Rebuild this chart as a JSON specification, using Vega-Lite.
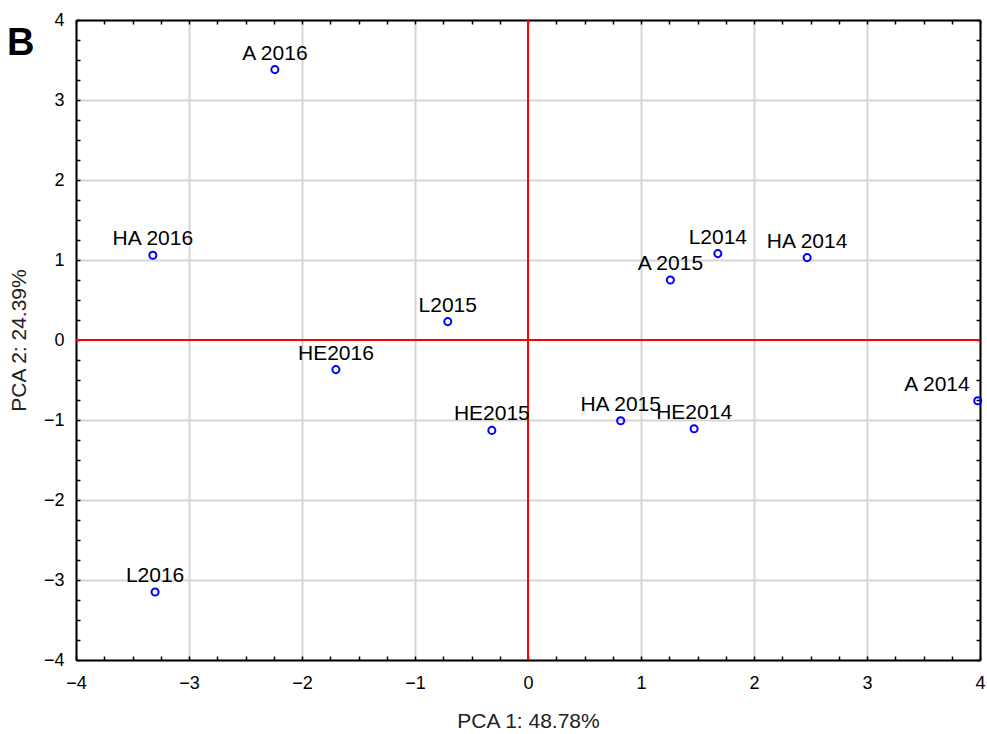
{
  "$schema": "https://vega.github.io/schema/vega-lite/v6.json",
  "width": 904,
  "height": 640,
  "autosize": {"type": "none"},
  "padding": {"left": 76, "top": 20, "right": 7, "bottom": 74},
  "background": "white",
  "title": {"text": "B", "anchor": "start", "frame": "group", "fontSize": 38, "fontWeight": "bold", "font": "Liberation Sans", "color": "black", "offset": 0, "dx": -69, "dy": 82, "baseline": "alphabetic"},
  "data": {"values": [
    {"label": "A 2016", "pc1": -2.24, "pc2": 3.38},
    {"label": "HA 2016", "pc1": -3.32, "pc2": 1.06},
    {"label": "L2016", "pc1": -3.30, "pc2": -3.15},
    {"label": "HE2016", "pc1": -1.70, "pc2": -0.37},
    {"label": "L2015", "pc1": -0.71, "pc2": 0.23},
    {"label": "HE2015", "pc1": -0.32, "pc2": -1.13},
    {"label": "A 2015", "pc1": 1.26, "pc2": 0.75},
    {"label": "L2014", "pc1": 1.68, "pc2": 1.08},
    {"label": "HA 2014", "pc1": 2.47, "pc2": 1.03},
    {"label": "A 2014", "pc1": 3.98, "pc2": -0.76},
    {"label": "HA 2015", "pc1": 0.82, "pc2": -1.01},
    {"label": "HE2014", "pc1": 1.47, "pc2": -1.11}
  ]},
  "resolve": {"axis": {"x": "independent", "y": "independent"}},
  "layer": [
    {
      "mark": {"type": "rule", "color": "#ff0000", "strokeWidth": 2},
      "encoding": {"y": {"datum": 0, "type": "quantitative", "scale": {"domain": [-4, 4], "nice": false, "zero": false}, "axis": null}}
    },
    {
      "mark": {"type": "rule", "color": "#ff0000", "strokeWidth": 2},
      "encoding": {"x": {"datum": 0, "type": "quantitative", "scale": {"domain": [-4, 4], "nice": false, "zero": false}, "axis": null}}
    },
    {
      "mark": {"type": "point", "shape": "circle", "filled": false, "color": "#0000ff", "strokeWidth": 2, "size": 50, "opacity": 1},
      "encoding": {
        "x": {"field": "pc1", "type": "quantitative", "scale": {"domain": [-4, 4], "nice": false, "zero": false},
          "axis": {"orient": "bottom", "title": "PCA 1: 48.78%", "values": [-4,-3.75,-3.5,-3.25,-3,-2.75,-2.5,-2.25,-2,-1.75,-1.5,-1.25,-1,-0.75,-0.5,-0.25,0,0.25,0.5,0.75,1,1.25,1.5,1.75,2,2.25,2.5,2.75,3,3.25,3.5,3.75,4],
            "labelExpr": "datum.value % 1 === 0 ? format(datum.value, 'd') : ''", "labelOverlap": false, "labelFlush": false,
            "grid": true, "gridColor": "#d6d6d6", "gridWidth": 2,
            "gridOpacity": {"condition": {"test": "datum.value % 1 !== 0 || datum.value === 0", "value": 0}, "value": 1},
            "tickSize": -4, "tickColor": "black", "tickWidth": 1.5, "domainColor": "black", "domainWidth": 2,
            "labelFont": "Liberation Sans", "labelFontSize": 18, "labelColor": "black", "labelPadding": 18,
            "titleFont": "Liberation Sans", "titleFontSize": 21, "titleFontWeight": "normal", "titleColor": "#222", "titlePadding": 18}},
        "y": {"field": "pc2", "type": "quantitative", "scale": {"domain": [-4, 4], "nice": false, "zero": false},
          "axis": {"orient": "left", "title": "PCA 2: 24.39%", "values": [-4,-3.75,-3.5,-3.25,-3,-2.75,-2.5,-2.25,-2,-1.75,-1.5,-1.25,-1,-0.75,-0.5,-0.25,0,0.25,0.5,0.75,1,1.25,1.5,1.75,2,2.25,2.5,2.75,3,3.25,3.5,3.75,4],
            "labelExpr": "datum.value % 1 === 0 ? format(datum.value, 'd') : ''", "labelOverlap": false, "labelFlush": false,
            "grid": true, "gridColor": "#d6d6d6", "gridWidth": 2,
            "gridOpacity": {"condition": {"test": "datum.value % 1 !== 0 || datum.value === 0", "value": 0}, "value": 1},
            "tickSize": -4, "tickColor": "black", "tickWidth": 1.5, "domainColor": "black", "domainWidth": 2,
            "labelFont": "Liberation Sans", "labelFontSize": 18, "labelColor": "black", "labelPadding": 16,
            "titleFont": "Liberation Sans", "titleFontSize": 21, "titleFontWeight": "normal", "titleColor": "#222", "titlePadding": 14}}
      }
    },
    {
      "transform": [{"filter": "datum.label !== 'A 2014'"}],
      "mark": {"type": "text", "font": "Liberation Sans", "fontSize": 21, "color": "black", "align": "center", "baseline": "alphabetic", "dy": -10},
      "encoding": {
        "text": {"field": "label"},
        "x": {"field": "pc1", "type": "quantitative", "scale": {"domain": [-4, 4], "nice": false, "zero": false},
          "axis": {"orient": "top", "title": null, "labels": false, "grid": false, "values": [-4,-3.75,-3.5,-3.25,-3,-2.75,-2.5,-2.25,-2,-1.75,-1.5,-1.25,-1,-0.75,-0.5,-0.25,0,0.25,0.5,0.75,1,1.25,1.5,1.75,2,2.25,2.5,2.75,3,3.25,3.5,3.75,4],
            "tickSize": -4, "tickColor": "black", "tickWidth": 1.5, "domainColor": "black", "domainWidth": 2}},
        "y": {"field": "pc2", "type": "quantitative", "scale": {"domain": [-4, 4], "nice": false, "zero": false},
          "axis": {"orient": "right", "title": null, "labels": false, "grid": false, "values": [-4,-3.75,-3.5,-3.25,-3,-2.75,-2.5,-2.25,-2,-1.75,-1.5,-1.25,-1,-0.75,-0.5,-0.25,0,0.25,0.5,0.75,1,1.25,1.5,1.75,2,2.25,2.5,2.75,3,3.25,3.5,3.75,4],
            "tickSize": -4, "tickColor": "black", "tickWidth": 1.5, "domainColor": "black", "domainWidth": 2}}
      }
    },
    {
      "transform": [{"filter": "datum.label === 'A 2014'"}],
      "mark": {"type": "text", "font": "Liberation Sans", "fontSize": 21, "color": "black", "align": "right", "baseline": "alphabetic", "dy": -10, "dx": -8},
      "encoding": {
        "text": {"field": "label"},
        "x": {"field": "pc1", "type": "quantitative", "scale": {"domain": [-4, 4], "nice": false, "zero": false}, "axis": null},
        "y": {"field": "pc2", "type": "quantitative", "scale": {"domain": [-4, 4], "nice": false, "zero": false}, "axis": null}
      }
    }
  ],
  "config": {"view": {"stroke": null}}
}
